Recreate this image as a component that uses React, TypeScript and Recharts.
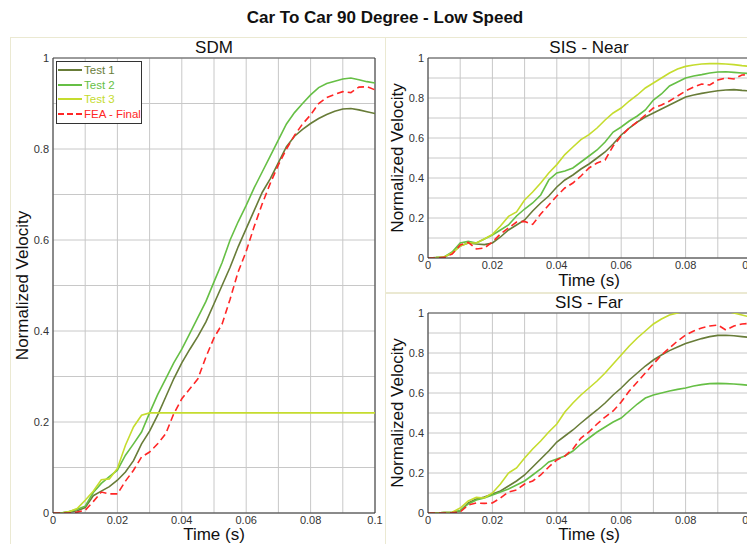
import React from 'react';
import { LineChart, Line, XAxis, YAxis, CartesianGrid, ReferenceLine, Legend } from 'recharts';

// time axis shared by all three panels (s)
const times = [
  0, 0.0025, 0.005, 0.0075, 0.01, 0.0125, 0.015, 0.0175, 0.02, 0.0225, 0.025, 0.0275, 0.03, 0.0325,
  0.035, 0.0375, 0.04, 0.0425, 0.045, 0.0475, 0.05, 0.0525, 0.055, 0.0575, 0.06, 0.0625, 0.065,
  0.0675, 0.07, 0.0725, 0.075, 0.0775, 0.08, 0.0825, 0.085, 0.0875, 0.09, 0.0925, 0.095, 0.0975, 0.1,
];

const xTicks = [0, 0.01, 0.02, 0.03, 0.04, 0.05, 0.06, 0.07, 0.08, 0.09, 0.1];
const xTickLabels = ['0', '', '0.02', '', '0.04', '', '0.06', '', '0.08', '', '0.1'];
const yTicks = [0, 0.1, 0.2, 0.3, 0.4, 0.5, 0.6, 0.7, 0.8, 0.9, 1];
const yTickLabels = ['0', '', '0.2', '', '0.4', '', '0.6', '', '0.8', '', '1'];

const seriesNames = ['Test 1', 'Test 2', 'Test 3', 'FEA - Final'];

// SDM
const sdmTest1 = [
  0, 0, 0.002, 0.005, 0.012, 0.038, 0.048, 0.058, 0.072, 0.09, 0.115, 0.152, 0.18, 0.215, 0.255,
  0.295, 0.33, 0.36, 0.388, 0.42, 0.46, 0.5, 0.54, 0.585, 0.625, 0.665, 0.705, 0.735, 0.77, 0.805,
  0.828, 0.843, 0.856, 0.867, 0.876, 0.883, 0.888, 0.889, 0.886, 0.882, 0.878,
];
const sdmTest2 = [
  0, 0, 0.003, 0.008, 0.015, 0.045, 0.065, 0.08, 0.094, 0.127, 0.152, 0.178, 0.22, 0.26, 0.295,
  0.33, 0.36, 0.395, 0.43, 0.465, 0.508, 0.55, 0.6, 0.64, 0.676, 0.715, 0.75, 0.785, 0.82, 0.855,
  0.88, 0.9, 0.919, 0.935, 0.944, 0.949, 0.954, 0.956, 0.952, 0.948, 0.945,
];
const sdmTest3 = [
  0, 0, 0.003, 0.01, 0.028, 0.048, 0.073, 0.075, 0.098, 0.149, 0.189, 0.215, 0.22, 0.22, 0.22,
  0.22, 0.22, 0.22, 0.22, 0.22, 0.22, 0.22, 0.22, 0.22, 0.22, 0.22, 0.22, 0.22, 0.22, 0.22,
  0.22, 0.22, 0.22, 0.22, 0.22, 0.22, 0.22, 0.22, 0.22, 0.22, 0.22,
];
const sdmFea = [
  0, 0, 0, 0.002, 0.006, 0.025, 0.046, 0.042, 0.042, 0.07, 0.094, 0.123, 0.134, 0.152, 0.174,
  0.218, 0.251, 0.273, 0.295, 0.343, 0.385, 0.415, 0.47, 0.53, 0.575, 0.63, 0.68, 0.725, 0.765, 0.8,
  0.83, 0.855, 0.875, 0.9, 0.913, 0.92, 0.926, 0.924, 0.936, 0.937, 0.93,
];

// SIS - Near
const nearTest1 = [
  0, 0.002, 0.004, 0.025, 0.06, 0.075, 0.07, 0.067, 0.075, 0.105, 0.14, 0.165, 0.19, 0.235, 0.275,
  0.31, 0.355, 0.39, 0.415, 0.445, 0.47, 0.5, 0.53, 0.57, 0.615, 0.65, 0.68, 0.705, 0.725, 0.745,
  0.765, 0.785, 0.805, 0.815, 0.823, 0.83, 0.836, 0.84, 0.842, 0.838, 0.835,
];
const nearTest2 = [
  0, 0.002, 0.005, 0.03, 0.075, 0.083, 0.075, 0.095, 0.115, 0.14, 0.165, 0.21, 0.245, 0.275, 0.315,
  0.39, 0.425, 0.435, 0.45, 0.48, 0.51, 0.54, 0.58, 0.63, 0.655, 0.685, 0.71, 0.74, 0.79, 0.82,
  0.86, 0.88, 0.9, 0.91, 0.917, 0.925, 0.93, 0.931, 0.928, 0.925, 0.922,
];
const nearTest3 = [
  0, 0.002, 0.005, 0.025, 0.06, 0.075, 0.075, 0.095, 0.118, 0.16, 0.208, 0.23, 0.29, 0.33, 0.375,
  0.425, 0.467, 0.517, 0.555, 0.592, 0.617, 0.65, 0.69, 0.725, 0.75, 0.785, 0.815, 0.85, 0.875, 0.9,
  0.925, 0.945, 0.958, 0.965, 0.97, 0.972, 0.972, 0.97, 0.967, 0.962, 0.958,
];
const nearFea = [
  0, 0, 0.003, 0.02, 0.065, 0.078, 0.045, 0.05, 0.08, 0.12, 0.15, 0.18, 0.183, 0.168, 0.22, 0.265,
  0.31, 0.35, 0.375, 0.41, 0.45, 0.475, 0.49, 0.56, 0.61, 0.65, 0.68, 0.715, 0.75, 0.765, 0.785,
  0.81, 0.835, 0.855, 0.87, 0.865, 0.89, 0.9, 0.895, 0.915, 0.917,
];

// SIS - Far
const farTest1 = [
  0, 0, 0.002, 0.004, 0.01, 0.05, 0.07, 0.08, 0.095, 0.11, 0.135, 0.16, 0.19, 0.23, 0.27, 0.31,
  0.355, 0.385, 0.415, 0.45, 0.483, 0.515, 0.55, 0.59, 0.625, 0.665, 0.7, 0.735, 0.765, 0.79, 0.812,
  0.83, 0.847, 0.86, 0.872, 0.882, 0.888, 0.889, 0.886, 0.882, 0.878,
];
const farTest2 = [
  0, 0, 0.002, 0.004, 0.012, 0.045, 0.065, 0.075, 0.09, 0.105, 0.12, 0.14, 0.16, 0.19, 0.22, 0.255,
  0.27, 0.285, 0.31, 0.345, 0.375, 0.405, 0.43, 0.455, 0.475, 0.51, 0.545, 0.575, 0.59, 0.6, 0.61,
  0.618, 0.625, 0.635, 0.642, 0.647, 0.648, 0.647, 0.645, 0.642, 0.638,
];
const farTest3 = [
  0, 0, 0.002, 0.004, 0.025, 0.06, 0.078, 0.075, 0.1, 0.145, 0.2, 0.225, 0.275, 0.32, 0.36, 0.405,
  0.445, 0.505, 0.55, 0.59, 0.625, 0.66, 0.7, 0.745, 0.79, 0.835, 0.875, 0.91, 0.945, 0.97, 0.99,
  1.0, 1.01, 1.015, 1.02, 1.02, 1.015, 1.01, 1.0, 0.99, 0.98,
];
const farFea = [
  0, 0, 0, 0.002, 0.005, 0.04, 0.05, 0.048, 0.05, 0.075, 0.105, 0.115, 0.145, 0.16, 0.19, 0.23,
  0.265, 0.285, 0.32, 0.375, 0.405, 0.445, 0.48, 0.51, 0.555, 0.61, 0.655, 0.7, 0.745, 0.79, 0.825,
  0.86, 0.89, 0.91, 0.925, 0.935, 0.94, 0.915, 0.935, 0.945, 0.948,
];

const seriesStyle = [
  { key: 't1', color: '#687c38', dash: undefined },
  { key: 't2', color: '#66bf45', dash: undefined },
  { key: 't3', color: '#c5dc2e', dash: undefined },
  { key: 'fea', color: '#ff2626', dash: '7 4' },
];

const FONT = '"Liberation Sans", Arial, sans-serif';

function buildRows(t1: number[], t2: number[], t3: number[], fea: number[]) {
  return times.map((time, i) => ({ time, t1: t1[i], t2: t2[i], t3: t3[i], fea: fea[i] }));
}

const sdmRows = buildRows(sdmTest1, sdmTest2, sdmTest3, sdmFea);
const nearRows = buildRows(nearTest1, nearTest2, nearTest3, nearFea);
const farRows = buildRows(farTest1, farTest2, farTest3, farFea);

function LegendBox() {
  return (
    <div style={{ border: '1px solid #333', background: '#fff', width: 83, padding: '1px 0 2px 1px', fontFamily: FONT }}>
      {seriesStyle.map((s, i) => (
        <div key={s.key} style={{ display: 'flex', alignItems: 'center', height: 14.5, fontSize: 11.5, color: s.color }}>
          <svg width={24} height={4} style={{ flexShrink: 0 }}>
            <line x1={0} y1={2} x2={24} y2={2} stroke={s.color} strokeWidth={2} strokeDasharray={s.dash ? '6 3' : undefined} />
          </svg>
          <span style={{ marginLeft: 2, whiteSpace: 'nowrap' }}>{seriesNames[i]}</span>
        </div>
      ))}
    </div>
  );
}

interface PanelProps {
  rows: ReturnType<typeof buildRows>;
  width: number;
  height: number;
  margin: { top: number; right: number; left: number; bottom: number };
  xAxisHeight: number;
  labelOffset: number;
  showLegend?: boolean;
}

function Panel({ rows, width, height, margin, xAxisHeight, labelOffset, showLegend }: PanelProps) {
  return (
    <LineChart width={width} height={height} data={rows} margin={margin}>
      <CartesianGrid stroke="#c8c8c8" strokeWidth={1} />
      <XAxis
        dataKey="time"
        type="number"
        domain={[0, 0.1]}
        ticks={xTicks}
        interval={0}
        allowDataOverflow
        height={xAxisHeight}
        tickLine={false}
        tickSize={0}
        tickMargin={3}
        axisLine={{ stroke: '#333' }}
        tick={{ fontSize: 11, fill: '#333' }}
        tickFormatter={(_v: number, i: number) => xTickLabels[i]}
        label={{ value: 'Time (s)', position: 'insideBottom', offset: labelOffset, style: { fontSize: 17, fill: '#111' } }}
      />
      <YAxis
        type="number"
        domain={[0, 1]}
        ticks={yTicks}
        interval={0}
        allowDataOverflow
        width={43}
        tickLine={false}
        tickSize={0}
        tickMargin={4}
        axisLine={{ stroke: '#333' }}
        tick={{ fontSize: 11, fill: '#333' }}
        tickFormatter={(_v: number, i: number) => yTickLabels[i]}
        label={{ value: 'Normalized Velocity', angle: -90, position: 'insideLeft', offset: 12, style: { fontSize: 17, fill: '#111', textAnchor: 'middle' } }}
      />
      <ReferenceLine y={1} stroke="#555" />
      <ReferenceLine x={0.1} stroke="#333" />
      {seriesStyle.map((s, i) => (
        <Line
          key={s.key}
          type="linear"
          dataKey={s.key}
          name={seriesNames[i]}
          stroke={s.color}
          strokeWidth={1.6}
          strokeDasharray={s.dash}
          dot={false}
          isAnimationActive={false}
        />
      ))}
      {showLegend && (
        <Legend
          layout="vertical"
          align="center"
          verticalAlign="middle"
          wrapperStyle={{ left: 56, top: 24, width: 86, height: 62 }}
          content={() => <LegendBox />}
        />
      )}
    </LineChart>
  );
}

const subTitle: React.CSSProperties = {
  position: 'absolute',
  fontSize: 17,
  textAlign: 'center',
  color: '#111',
  lineHeight: '20px',
};

export default function App() {
  return (
    <div style={{ position: 'absolute', left: 0, top: 0, width: 747, height: 544, overflow: 'hidden', background: '#fff', fontFamily: FONT }}>
      <div style={{ position: 'absolute', left: 0, top: 8, width: 770, textAlign: 'center', fontWeight: 'bold', fontSize: 17, lineHeight: '20px', color: '#111' }}>
        Car To Car 90 Degree - Low Speed
      </div>

      {/* panel frames */}
      <div style={{ position: 'absolute', left: 10, top: 37, width: 374, height: 520, border: '1px solid #ebe9d2' }} />
      <div style={{ position: 'absolute', left: 386, top: 37, width: 400, height: 254, borderTop: '1px solid #ebe9d2', borderBottom: '2px solid #ebe9d2' }} />

      <div style={{ position: 'absolute', left: 0, top: 37 }}>
        <Panel rows={sdmRows} width={385} height={507} margin={{ top: 21, right: 10, left: 10, bottom: 0 }} xAxisHeight={31} labelOffset={4} showLegend />
      </div>
      <div style={{ position: 'absolute', left: 385, top: 37 }}>
        <Panel rows={nearRows} width={375} height={253} margin={{ top: 21, right: 10, left: 0, bottom: 0 }} xAxisHeight={32} labelOffset={4} />
      </div>
      <div style={{ position: 'absolute', left: 385, top: 292 }}>
        <Panel rows={farRows} width={375} height={252} margin={{ top: 21, right: 10, left: 0, bottom: 0 }} xAxisHeight={31} labelOffset={4} />
      </div>

      <div style={{ ...subTitle, left: 53, top: 38, width: 322 }}>SDM</div>
      <div style={{ ...subTitle, left: 428, top: 38, width: 322 }}>SIS - Near</div>
      <div style={{ ...subTitle, left: 428, top: 293, width: 322 }}>SIS - Far</div>
    </div>
  );
}
